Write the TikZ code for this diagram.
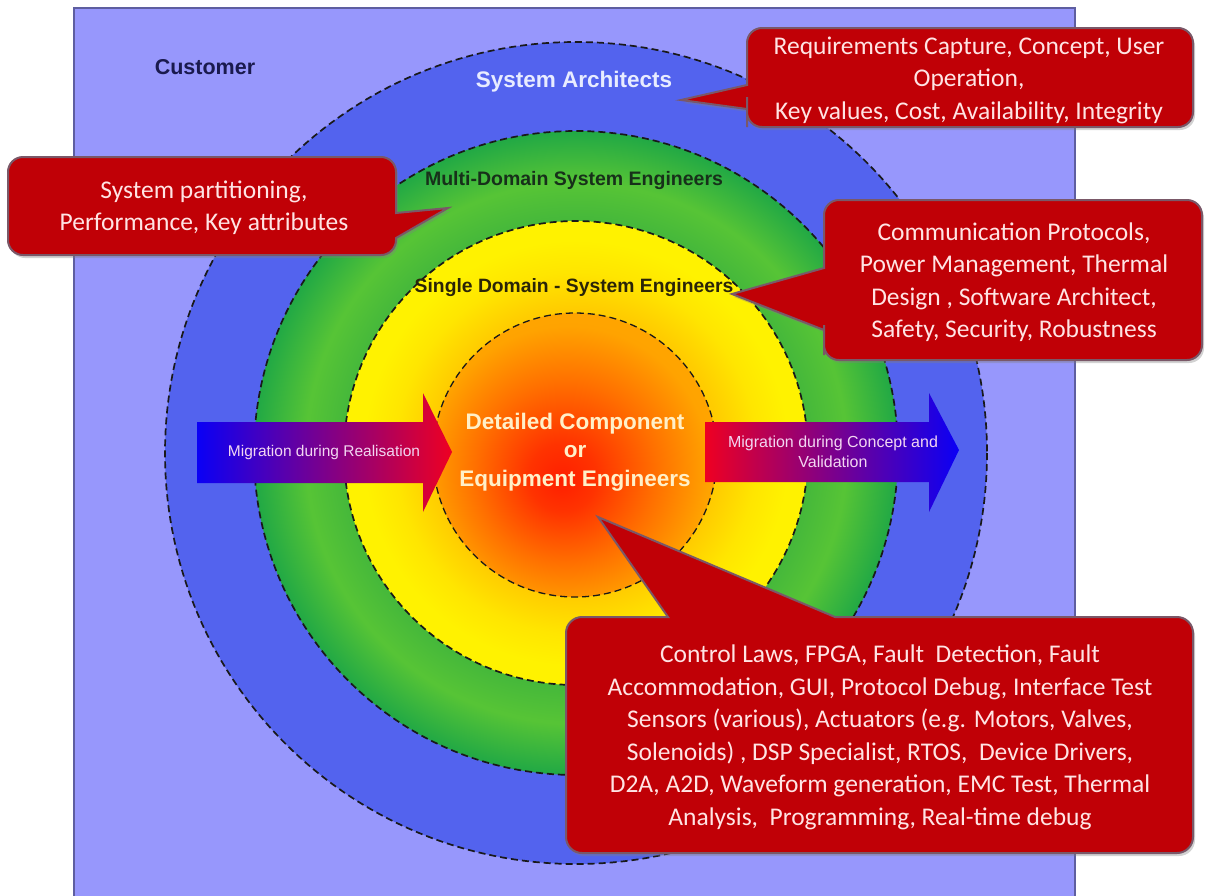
\documentclass[tikz,border=0pt]{standalone}
\usepackage{fontspec}
\setmainfont{Liberation Sans}
\newfontfamily\calloutfont{Carlito}
\usetikzlibrary{shadows}

\definecolor{lavender}{HTML}{9797FC}
\definecolor{lavenderedge}{HTML}{5E5EA0}
\definecolor{ringblue}{HTML}{5363EE}
\definecolor{calloutred}{HTML}{C00006}
\definecolor{calloutedge}{HTML}{7A5868}
\definecolor{callouttext}{HTML}{FFE4E4}
\definecolor{navy}{HTML}{1A1A4E}
\definecolor{archtext}{HTML}{E8ECFF}
\definecolor{multitext}{HTML}{17301A}
\definecolor{singletext}{HTML}{2A2408}
\definecolor{coretext}{HTML}{FFF0C8}
\definecolor{arrowtext}{HTML}{F2D6F2}
\definecolor{arrowblue}{HTML}{0A00F5}
\definecolor{arrowred}{HTML}{EE0022}

% radial fills of the nested rings (25bp = ring radius)
\pgfdeclareradialshading{coreglow}{\pgfpoint{-2.5bp}{-4.5bp}}{rgb(0bp)=(1,0.12,0); rgb(6bp)=(1,0.2,0); rgb(16bp)=(1,0.44,0); rgb(25bp)=(1,0.64,0); rgb(50bp)=(1,0.7,0)}
\pgfdeclareradialshading{yellowglow}{\pgfpoint{0bp}{0bp}}{rgb(0bp)=(1,0.7,0); rgb(15.5bp)=(1,0.8,0); rgb(19.5bp)=(1,0.9,0); rgb(23bp)=(1,0.95,0); rgb(50bp)=(1,0.95,0)}
\pgfdeclareradialshading{greenglow}{\pgfpoint{0bp}{0bp}}{rgb(0bp)=(0.27,0.72,0.23); rgb(18bp)=(0.27,0.72,0.23); rgb(21bp)=(0.34,0.77,0.21); rgb(25bp)=(0.13,0.66,0.27); rgb(50bp)=(0.13,0.66,0.27)}

\tikzset{
  ring/.style={draw=black!90, dash pattern=on 7pt off 4pt, line width=1.7pt},
  callout/.style={fill=calloutred, draw=calloutedge, line width=2pt,
    drop shadow={opacity=0.35, shadow xshift=2pt, shadow yshift=-3pt}},
  calloutlabel/.style={text=callouttext, align=center, inner sep=0pt,
    font=\calloutfont\fontsize{25.5}{32.5}\selectfont},
  ringlabel/.style={inner sep=0pt, font=\bfseries\fontsize{#1}{#1}\selectfont},
  arrowlabel/.style={text=arrowtext, align=center, inner sep=0pt,
    font=\fontsize{#1}{20}\selectfont},
}

\begin{document}
\begin{tikzpicture}[x=1pt, y=-1pt]
\useasboundingbox (0,0) rectangle (1206,895);
\fill[white] (0,0) rectangle (1206,895);

% customer field
\draw[fill=lavender, draw=lavenderedge, line width=1.3pt] (74,8) rectangle (1075,900);

% nested rings
\coordinate (hub) at (576,453);
\fill[ringblue] (hub) circle[radius=411];
\draw[ring] (hub) circle[radius=411];
\shade[shading=greenglow] (hub) circle[radius=322];
\draw[ring] (hub) circle[radius=322];
\shade[shading=yellowglow] (hub) circle[radius=232];
\draw[ring] (hub) circle[radius=232];
\coordinate (corehub) at (575,455);
\shade[shading=coreglow] (corehub) circle[radius=142];
\draw[ring, line width=1.3pt] (corehub) circle[radius=142];

% ring titles
\node[ringlabel=21.5, text=navy] (customer) at (205,67) {Customer};
\node[ringlabel=22.5, text=archtext] (architects) at (574,82) {System Architects};
\node[ringlabel=19.5, text=multitext] (multi) at (574,180) {Multi-Domain System Engineers};
\node[ringlabel=19.3, text=singletext] (single) at (574,288) {Single Domain - System Engineers};

% migration arrows
\shade[left color=arrowblue, right color=arrowred]
  (197,422) -- (423,422) -- (423,393) -- (452,452) -- (423,512) -- (423,483) -- (197,483) -- cycle;
\node[arrowlabel=15.5] (realise) at (324,452) {Migration during Realisation};
\shade[left color=arrowred, right color=arrowblue]
  (705,422) -- (929,422) -- (929,393) -- (959,450) -- (929,512) -- (929,482) -- (705,482) -- cycle;
\node[arrowlabel=16] (concept) at (833,452) {Migration during Concept and\\Validation};

% core title
\node[align=center, inner sep=0pt, text=coretext, font=\bfseries\fontsize{22.5}{28.5}\selectfont]
  (core) at (575,452) {Detailed Component\\or\\Equipment Engineers};

% callouts
\draw[callout] (747,85) -- (747,70) [rounded corners=15pt] -- (747,28) -- (1193,28) -- (1193,127)
  -- (747,127) -- (747,112) [sharp corners] -- (747,109) -- (681,100) -- cycle;
\node[calloutlabel] (reqtext) at (969,80)
  {Requirements Capture, Concept, User\\Operation,\\Key values, Cost, Availability, Integrity};

\draw[callout] (396,238) -- (396,240) [rounded corners=15pt] -- (396,255) -- (8,255) -- (8,157)
  -- (396,157) -- (396,198) [sharp corners] -- (396,213) -- (448,208) -- cycle;
\node[calloutlabel] (parttext) at (204,207.5) {System partitioning,\\Performance, Key attributes};

\draw[callout] (824,268) -- (824,250) [rounded corners=15pt] -- (824,200) -- (1202,200) -- (1202,360)
  -- (824,360) -- (824,340) [sharp corners] -- (824,330) -- (732,294) -- cycle;
\node[calloutlabel] (commtext) at (1014,282)
  {Communication Protocols,\\Power Management, Thermal\\Design , Software Architect,\\Safety, Security, Robustness};

\draw[callout] (835,617) -- (850,617) [rounded corners=16pt] -- (1193,617) -- (1193,853) -- (566,853)
  -- (566,617) -- (650,617) [sharp corners] -- (668,617) -- (598,517) -- cycle;
\node[calloutlabel] (detailtext) at (880,737.5)
  {Control Laws, FPGA, Fault~ Detection, Fault\\Accommodation, GUI, Protocol Debug, Interface Test\\Sensors (various), Actuators (e.g. Motors, Valves,\\Solenoids) , DSP Specialist, RTOS,~ Device Drivers,\\D2A, A2D, Waveform generation, EMC Test, Thermal\\Analysis,~ Programming, Real-time debug};
\end{tikzpicture}
\end{document}
